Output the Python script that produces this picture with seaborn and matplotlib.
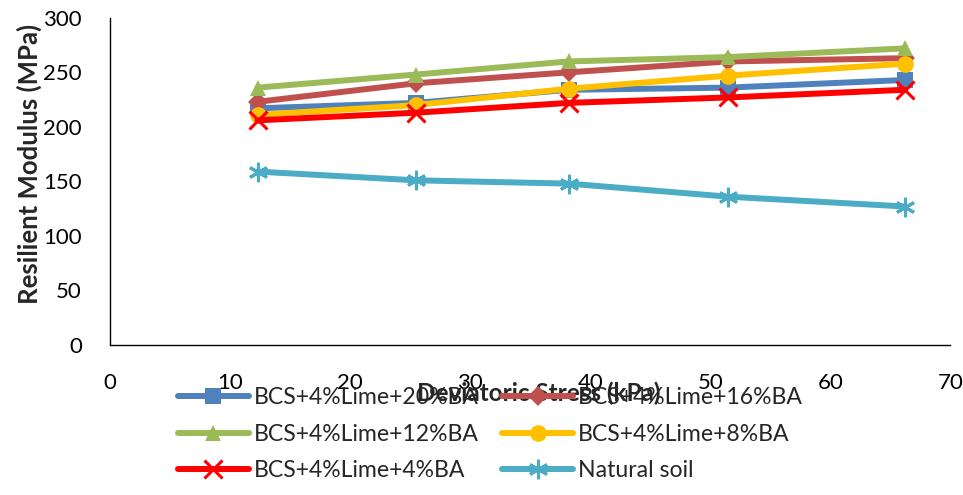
import matplotlib
matplotlib.use("Agg")
import matplotlib.pyplot as plt
import seaborn as sns
import pandas as pd

# Deviatoric stress levels (kPa)
stress = [12.3, 25.5, 38.2, 51.5, 66.2]

# Resilient modulus (MPa) for each mix
mr_20ba = [217, 222, 234, 236, 243]
mr_16ba = [223, 240, 250, 260, 263]
mr_12ba = [236, 248, 260, 264, 272]
mr_8ba = [211, 220, 235, 247, 258]
mr_4ba = [206, 213, 222, 227, 234]
mr_natural = [159, 151, 148, 136, 127]

series_names = ["BCS+4%Lime+20%BA", "BCS+4%Lime+16%BA", "BCS+4%Lime+12%BA",
                "BCS+4%Lime+8%BA", "BCS+4%Lime+4%BA", "Natural soil"]
series_values = [mr_20ba, mr_16ba, mr_12ba, mr_8ba, mr_4ba, mr_natural]

x_ticks = [0, 10, 20, 30, 40, 50, 60, 70]
y_ticks = [0, 50, 100, 150, 200, 250, 300]

colors = ["#4F81BD", "#C0504D", "#9BBB59", "#FFC000", "#FF0000", "#4BACC6"]
markers = ["s", "D", "^", "o", "x", (6, 2, 0)]
msizes = [11, 10, 12, 12, 13, 14]

sns.set_theme(style="white")
plt.rcParams["font.family"] = ["Lato", "DejaVu Sans"]

fig = plt.figure(figsize=(9.63, 4.95), dpi=100)
ax = fig.add_axes([0.114, 0.303, 0.873, 0.661])

handles = {}
for name, vals, c, m, ms in zip(series_names, series_values, colors, markers, msizes):
    df = pd.DataFrame({"stress": stress, "mr": vals})
    sns.lineplot(data=df, x="stress", y="mr", ax=ax, color=c, linewidth=4.3,
                 marker=m, markersize=ms, markeredgewidth=2.2 if m in ("x", (6, 2, 0)) else 0,
                 markeredgecolor=c, markerfacecolor=c, label=name, legend=False)
    handles[name] = ax.lines[-1]

ax.set_xlim(0, 70)
ax.set_ylim(0, 300)
ax.set_xticks(x_ticks)
ax.set_yticks(y_ticks)
ax.set_xticklabels([str(t) for t in x_ticks])
ax.set_yticklabels([str(t) for t in y_ticks])
ax.tick_params(axis="both", length=0, labelsize=16, colors="black")
ax.tick_params(axis="x", pad=20)
ax.tick_params(axis="y", pad=20)
ax.set_xlabel("")
ax.set_ylabel("")

for side in ("top", "right"):
    ax.spines[side].set_visible(False)
for side in ("left", "bottom"):
    ax.spines[side].set_color("black")
    ax.spines[side].set_linewidth(1.0)

fig.text(0.030, 0.668, "Resilient Modulus (MPa)", rotation=90, ha="center", va="center",
         fontsize=18.5, fontweight="bold")
fig.text(0.559, 0.205, "Deviatoric Stress (kPa)", ha="center", va="center",
         fontsize=17.5, fontweight="bold")

# Legend arranged row-wise: 20/16, 12/8, 4/natural
order = [series_names[0], series_names[2], series_names[4],
         series_names[1], series_names[3], series_names[5]]
leg = fig.legend([handles[n] for n in order], order, ncol=2, frameon=False,
                 loc="upper left", bbox_to_anchor=(0.175, 0.237), fontsize=16.6,
                 handlelength=3.1, handletextpad=0.2, columnspacing=1.0,
                 labelspacing=0.68, borderaxespad=0)

fig.savefig("out.png", dpi=100, facecolor="white")
